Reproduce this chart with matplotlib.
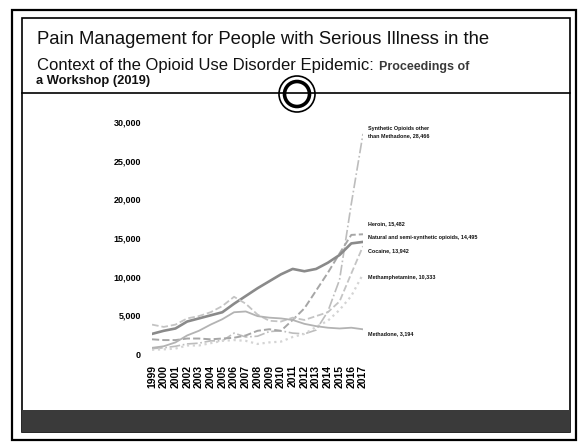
import matplotlib.pyplot as plt
from matplotlib.patches import Rectangle, Circle

# overdose deaths by drug type
years = list(range(1999, 2018))
synthetic = [700, 800, 1000, 1300, 1400, 1700, 1700, 2700, 2200, 2300, 2900, 3000, 2700, 2600, 3100, 5500, 9600, 19400, 28466]
heroin = [1900, 1800, 1800, 2000, 2000, 1900, 2000, 2100, 2400, 3000, 3200, 3000, 4400, 5900, 8200, 10500, 13000, 15400, 15482]
natural = [2600, 3000, 3300, 4200, 4600, 5000, 5400, 6500, 7500, 8500, 9400, 10300, 11000, 10700, 11000, 11800, 12800, 14300, 14495]
cocaine = [3800, 3500, 3800, 4600, 4900, 5400, 6200, 7400, 6500, 5100, 4300, 4200, 4700, 4400, 4900, 5400, 6800, 10400, 13942]
meth = [550, 600, 700, 1100, 1100, 1400, 1700, 1800, 1700, 1300, 1500, 1600, 2200, 2600, 3500, 4300, 5700, 7500, 10333]
methadone = [800, 1000, 1500, 2400, 3000, 3800, 4500, 5400, 5500, 4900, 4700, 4600, 4400, 3900, 3600, 3400, 3300, 3400, 3194]

end_labels = ["Synthetic Opioids other\nthan Methadone, 28,466", "Heroin, 15,482",
              "Natural and semi-synthetic opioids, 14,495", "Cocaine, 13,942",
              "Methamphetamine, 10,333", "Methadone, 3,194"]
label_y = [28700, 16900, 15100, 13400, 9950, 2600]

yticks = [0, 5000, 10000, 15000, 20000, 25000, 30000]

plt.rcParams['font.family'] = ['Liberation Sans', 'DejaVu Sans']

W, H = 578, 443
fig = plt.figure(figsize=(W / 100, H / 100), dpi=100)

# slide background drawn in pixel coordinates
bg = fig.add_axes([0, 0, 1, 1])
bg.set_xlim(0, W)
bg.set_ylim(H, 0)
bg.axis('off')
bg.add_patch(Rectangle((12, 10), 564, 430, fill=False, ec='black', lw=1.6))
bg.add_patch(Rectangle((22, 18), 548, 414, fill=False, ec='black', lw=1.2))
bg.plot([22, 570], [93, 93], color='black', lw=1.2)
bg.add_patch(Circle((297, 94), 18, fc='white', ec='black', lw=1.2))
bg.add_patch(Circle((297, 94), 12.5, fc='white', ec='black', lw=2.6))
bg.add_patch(Rectangle((22, 410), 548, 22, fc='#3a3a3a', ec='none'))

bg.text(37, 39, "Pain Management for People with Serious Illness in the",
        fontsize=13.3, va='center', ha='left', color='#111111')
bg.text(37, 65, "Context of the Opioid Use Disorder Epidemic:",
        fontsize=12, va='center', ha='left', color='#111111')
bg.text(379, 67, "Proceedings of", fontsize=9, fontweight='bold',
        va='center', ha='left', color='#3a3a3a')
bg.text(36, 81, "a Workshop (2019)", fontsize=9.3, fontweight='bold',
        va='center', ha='left', color='#111111')

# chart area
x0, x1, yb, yt = 152, 363, 354, 122
ax = fig.add_axes([x0 / W, (H - yb) / H, (x1 - x0) / W, (yb - yt) / H])
ax.patch.set_alpha(0)

series = [synthetic, heroin, natural, cocaine, meth, methadone]
colors = ['#bdbdbd', '#a6a6a6', '#8a8a8a', '#c4c4c4', '#d4d4d4', '#b3b3b3']
styles = ['-.', '--', '-', '--', ':', '-']
widths = [1.2, 1.4, 1.9, 1.3, 1.6, 1.3]
for vals, c, ls, lw in zip(series, colors, styles, widths):
    ax.plot(years, vals, color=c, ls=ls, lw=lw)

for lab, ly in zip(end_labels, label_y):
    ax.text(2017.45, ly, lab, fontsize=3.9, fontweight='bold', va='center',
            ha='left', color='#111111', linespacing=1.6)

ax.set_xlim(1999, 2017)
ax.set_ylim(0, 30000)
ax.set_yticks(yticks)
ax.set_yticklabels(['{:,}'.format(v) for v in yticks], fontsize=6.5, fontweight='bold')
ax.set_xticks(years)
ax.set_xticklabels([str(y) for y in years], rotation=90, fontsize=7.5, fontweight='bold')
ax.tick_params(length=0, pad=8)
ax.tick_params(axis='x', pad=8)
for s in ax.spines.values():
    s.set_visible(False)

fig.savefig('out.png', dpi=100)
